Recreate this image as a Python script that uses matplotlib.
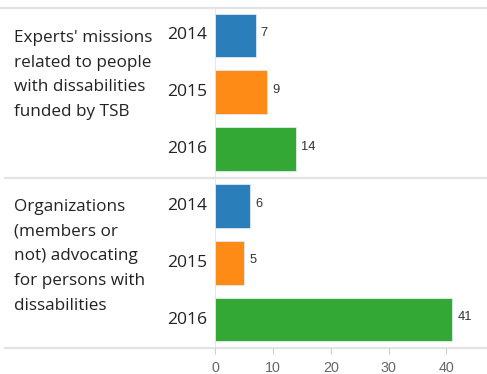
import matplotlib
matplotlib.use("Agg")
import matplotlib.pyplot as plt
import matplotlib.transforms as mtransforms

groups = ["Experts' missions\nrelated to people\nwith dissabilities\nfunded by TSB",
          "Organizations\n(members or\nnot) advocating\nfor persons with\ndissabilities"]
years = ["2014", "2015", "2016"]
values = [[7, 9, 14], [6, 5, 41]]
year_colors = ["#2a7fba", "#ff8b17", "#34a835"]
xticks = [0, 10, 20, 30, 40]

W, H = 487, 374
fig = plt.figure(figsize=(W / 100, H / 100), dpi=100)
ax = fig.add_axes([215 / W, 1 - 348 / H, 1 - 215 / W, (348 - 7) / H])

label_font = "Open Sans"
num_font = "Liberation Sans"
line_c = "#e3e3e3"

# group label tops, in figure pixels from the top
group_top = [30, 199]

pos = 0
for g, (gname, vals) in enumerate(zip(groups, values)):
    for i, (yr, v) in enumerate(zip(years, vals)):
        ax.barh(pos, v, height=0.77, color=year_colors[i], edgecolor="#dfe9f3",
                linewidth=0.6)
        ax.text(v + 0.9, pos - 0.04, str(v), ha="left", va="center",
                fontsize=9.3, color="#333333", family=num_font)
        ax.text(-8 / 5.8, pos, yr, ha="right", va="center", fontsize=12.6,
                color="#222222", family=label_font)
        pos += 1
    fig.text(14 / W, 1 - group_top[g] / H, gname, ha="left", va="top",
             fontsize=12.3, color="#222222", family=label_font, linespacing=1.72)

ax.set_xlim(0, 47)
ax.set_ylim(5.5, -0.5)

# horizontal separators running into the label margin
trans = mtransforms.blended_transform_factory(fig.transFigure, ax.transData)
for yv, x0 in [(-0.49, 0.0), (2.5, 5 / W), (5.5, 5 / W)]:
    ax.plot([x0, 1], [yv, yv], transform=trans, color=line_c, lw=1.6,
            clip_on=False, zorder=0)

ax.axvline(0, color=line_c, lw=1.2, zorder=0)

for s in ax.spines.values():
    s.set_visible(False)
ax.set_yticks([])
ax.set_xticks(xticks)
ax.tick_params(axis="x", length=4, color="#cccccc", labelsize=10.3,
               labelcolor="#666666", pad=5)
for lab in ax.get_xticklabels():
    lab.set_family(num_font)

fig.savefig("out.png", dpi=100)
